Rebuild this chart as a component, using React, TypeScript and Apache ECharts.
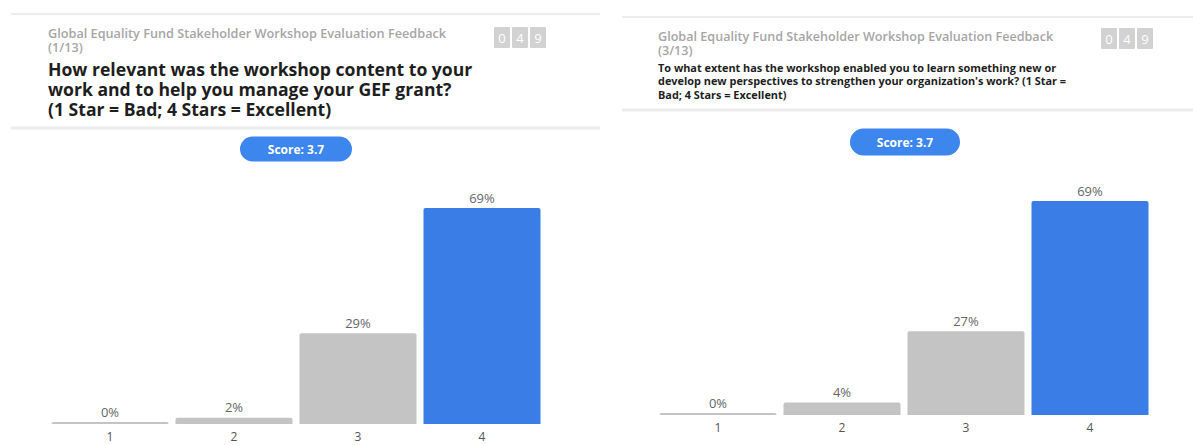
import React, { useEffect, useRef } from "react";
import * as echarts from "echarts";

const categories = ["1", "2", "3", "4"];
const q1Values = [0, 2, 29, 69];
const q3Values = [0, 4, 27, 69];
const counterDigits = ["0", "4", "9"];
const surveyTitle = "Global Equality Fund Stakeholder Workshop Evaluation Feedback";
const q1Index = "(1/13)";
const q3Index = "(3/13)";
const q1Lines = [
  "How relevant was the workshop content to your",
  "work and to help you manage your GEF grant?",
  "(1 Star = Bad; 4 Stars = Excellent)",
];
const q3Lines = [
  "To what extent has the workshop enabled you to learn something new or",
  "develop new perspectives to strengthen your organization's work? (1 Star =",
  "Bad; 4 Stars = Excellent)",
];
const scoreText = "Score: 3.7";

const FONT = "'Open Sans', 'Noto Sans', sans-serif";
const BLUE = "#3b7de6";
const GRAY = "#c4c4c4";

function barData(vals: number[]) {
  return vals.map((v, i) => ({
    value: v,
    itemStyle: { color: i === vals.length - 1 ? BLUE : GRAY },
  }));
}

function counter(x: number, y: number) {
  return counterDigits.map((d, i) => ({
    type: "group",
    x: x + i * 18,
    y,
    children: [
      { type: "rect", shape: { x: 0, y: 0, width: 16, height: 21, r: 1 }, style: { fill: "#d2d2d2" } },
      {
        type: "text",
        style: {
          text: d, x: 8, y: 11, fill: "#ffffff", fontSize: 13, fontFamily: FONT,
          textAlign: "center", textVerticalAlign: "middle",
        },
      },
    ],
  }));
}

function line(x1: number, x2: number, y: number, w: number) {
  return { type: "line", shape: { x1, y1: y, x2, y2: y }, style: { stroke: "#ececec", lineWidth: w } };
}

function block(lines: string[], x: number, top: number, size: number, lh: number, color: string, weight: any) {
  return {
    type: "text",
    style: {
      text: lines.join("\n"), x, y: top, fill: color, fontSize: size, fontWeight: weight, fontFamily: FONT,
      lineHeight: lh, textVerticalAlign: "top",
    },
  };
}

function pill(cx: number, cy: number, w: number, h: number) {
  return {
    type: "group",
    children: [
      { type: "rect", shape: { x: cx - w / 2, y: cy - h / 2, width: w, height: h, r: h / 2 }, style: { fill: "#3d86ee" } },
      {
        type: "text",
        style: {
          text: scoreText, x: cx, y: cy, fill: "#ffffff", fontSize: 12, fontWeight: "bold", fontFamily: FONT,
          textAlign: "center", textVerticalAlign: "middle",
        },
      },
    ],
  };
}

export default function App() {
  const ref = useRef<HTMLDivElement>(null);
  useEffect(() => {
    if (!ref.current) return;
    const chart = echarts.init(ref.current, null, { renderer: "svg" });
    const xAxisCommon = {
      type: "category",
      data: categories,
      axisLine: { show: false },
      axisTick: { show: false },
      axisLabel: { color: "#555", fontSize: 12, fontFamily: FONT, margin: 6 },
    };
    const yAxisCommon = { type: "value", min: 0, max: 100, show: false };
    const labelCommon = {
      show: true, position: "top", distance: 4, formatter: "{c}%",
      color: "#666", fontSize: 13, fontFamily: FONT,
    };
    chart.setOption({
      animation: false,
      backgroundColor: "#ffffff",
      grid: [
        { left: 48, width: 496, top: 111, height: 313 },
        { left: 656, width: 496, top: 105, height: 310 },
      ],
      xAxis: [
        { ...xAxisCommon, gridIndex: 0 },
        { ...xAxisCommon, gridIndex: 1 },
      ],
      yAxis: [
        { ...yAxisCommon, gridIndex: 0 },
        { ...yAxisCommon, gridIndex: 1 },
      ],
      series: [
        {
          type: "bar", xAxisIndex: 0, yAxisIndex: 0, data: barData(q1Values),
          barWidth: 117, barMinHeight: 2, itemStyle: { borderRadius: [2, 2, 0, 0] }, label: labelCommon,
        },
        {
          type: "bar", xAxisIndex: 1, yAxisIndex: 1, data: barData(q3Values),
          barWidth: 117, barMinHeight: 2, itemStyle: { borderRadius: [2, 2, 0, 0] }, label: labelCommon,
        },
      ],
      graphic: [
        line(11, 600, 14, 2),
        line(11, 600, 128, 3),
        line(622, 1193, 17, 2),
        line(622, 1193, 110, 3),
        block([surveyTitle, q1Index], 48, 25.5, 12.7, 14, "#a6a6a6", 600),
        block(q1Lines, 48, 58.5, 17.6, 20, "#1e1e1e", "bold"),
        block([surveyTitle, q3Index], 658, 29.75, 12.6, 13.5, "#a6a6a6", 600),
        block(q3Lines, 658, 60.25, 10.9, 13.5, "#1e1e1e", "bold"),
        ...counter(494, 27),
        ...counter(1101, 28),
        pill(296, 149, 112, 25),
        pill(905, 142, 110, 27),
      ],
    });
    return () => chart.dispose();
  }, []);
  return (
    <div
      ref={ref}
      style={{ position: "absolute", left: 0, top: 0, width: 1193, height: 445 }}
    />
  );
}
